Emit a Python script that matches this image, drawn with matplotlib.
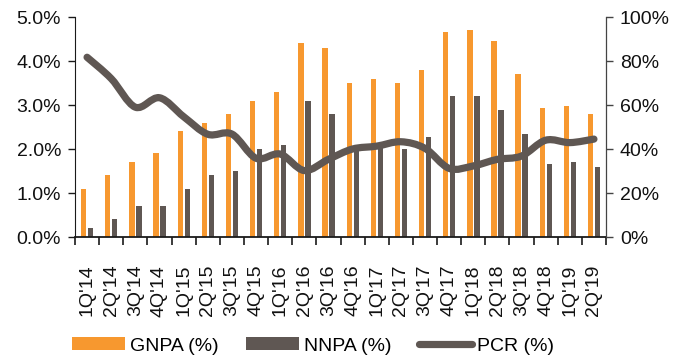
import matplotlib
matplotlib.use("Agg")
import matplotlib.pyplot as plt
import numpy as np
from matplotlib.path import Path
from matplotlib.patches import PathPatch
from matplotlib.lines import Line2D
from matplotlib.ticker import FuncFormatter, FixedLocator

plt.rcParams['font.family'] = ['Liberation Sans', 'DejaVu Sans']

quarters = ["1Q'14", "2Q'14", "3Q'14", "4Q'14", "1Q'15", "2Q'15", "3Q'15", "4Q'15",
            "1Q'16", "2Q'16", "3Q'16", "4Q'16", "1Q'17", "2Q'17", "3Q'17", "4Q'17",
            "1Q'18", "2Q'18", "3Q'18", "4Q'18", "1Q'19", "2Q'19"]
gnpa = [1.1, 1.4, 1.7, 1.9, 2.4, 2.6, 2.8, 3.1, 3.3, 4.4, 4.3, 3.5,
        3.6, 3.5, 3.8, 4.65, 4.7, 4.45, 3.7, 2.93, 2.98, 2.8]
nnpa = [0.2, 0.4, 0.7, 0.7, 1.1, 1.4, 1.5, 2.0, 2.1, 3.1, 2.8, 2.1,
        2.05, 2.0, 2.28, 3.2, 3.2, 2.88, 2.33, 1.65, 1.7, 1.6]
pcr = [81.7, 72.0, 59.0, 63.3, 54.7, 46.7, 46.8, 35.8, 37.7, 30.2, 35.3, 40.0,
       41.3, 43.3, 40.3, 31.2, 32.3, 35.3, 36.8, 44.0, 42.9, 44.5]

ORANGE = '#F7982F'
DARK = '#5F5753'
AXIS = '#1a1a1a'

fig = plt.figure(figsize=(6.78, 3.59), dpi=100)
ax = fig.add_axes([75 / 678, 1 - 237 / 359, (606 - 75) / 678, (237 - 17) / 359])
ax2 = ax.twinx()

x = np.arange(len(quarters))
w = 0.22
b1 = ax.bar(x - 0.14, gnpa, width=w, color=ORANGE, zorder=2)
b2 = ax.bar(x + 0.15, nnpa, width=w, color=DARK, zorder=2)

ax.set_xlim(-0.5, len(quarters) - 0.5)
ax.set_ylim(0, 5)
ax.set_yticks(np.arange(0, 5.01, 1))
ax.yaxis.set_major_formatter(FuncFormatter(lambda v, p: f"{v:.1f}%"))
ax2.set_ylim(0, 100)
ax2.set_yticks(np.arange(0, 101, 20))
ax2.yaxis.set_major_formatter(FuncFormatter(lambda v, p: f"{v:.0f}%"))

ax.set_xticks(x)
ax.set_xticklabels(quarters, rotation=90, fontsize=14, color='#111111')
ax.xaxis.set_minor_locator(FixedLocator(np.arange(-0.5, len(quarters), 1)))
ax.tick_params(axis='x', which='major', length=0, pad=20)
ax.tick_params(axis='x', which='minor', length=6, width=1.2, color=AXIS, direction='out')
ax.tick_params(axis='y', length=5, width=1.0, color=AXIS, labelsize=14, pad=5, labelcolor='#111111')
ax2.tick_params(axis='y', length=5, width=1.0, color='#444444', labelsize=14, pad=5, labelcolor='#111111')

for a in (ax, ax2):
    a.spines['top'].set_visible(False)
ax.spines['left'].set_color(AXIS)
ax.spines['bottom'].set_color(AXIS)
ax.spines['bottom'].set_linewidth(1.3)
ax2.spines['left'].set_visible(False)
ax2.spines['bottom'].set_visible(False)
ax2.spines['right'].set_color('#444444')

# Smoothed PCR line drawn as cubic Bezier segments through each quarter's value
pts = np.column_stack([x, pcr]).astype(float)
ext = np.vstack([pts[0], pts, pts[-1]])
verts = [tuple(pts[0])]
codes = [Path.MOVETO]
for i in range(len(pts) - 1):
    p0, p1, p2, p3 = ext[i], ext[i + 1], ext[i + 2], ext[i + 3]
    c1 = p1 + (p2 - p0) / 6.0
    c2 = p2 - (p3 - p1) / 6.0
    verts += [tuple(c1), tuple(c2), tuple(p2)]
    codes += [Path.CURVE4] * 3
line = PathPatch(Path(verts, codes), facecolor='none', edgecolor=DARK, lw=5.2,
                 capstyle='round', joinstyle='round', transform=ax2.transData, zorder=3)
ax2.add_patch(line)

handles = [b1, b2, Line2D([], [], color=DARK, lw=5.2, solid_capstyle='round')]
labels = ['GNPA (%)', 'NNPA (%)', 'PCR (%)']
fig.legend(handles, labels, loc='center', bbox_to_anchor=(313 / 678, 1 - 346 / 359),
           ncol=3, frameon=False, fontsize=14, handlelength=2.7, handleheight=0.6,
           handletextpad=0.25, columnspacing=1.45, borderpad=0)

fig.savefig('out.png', dpi=100)
